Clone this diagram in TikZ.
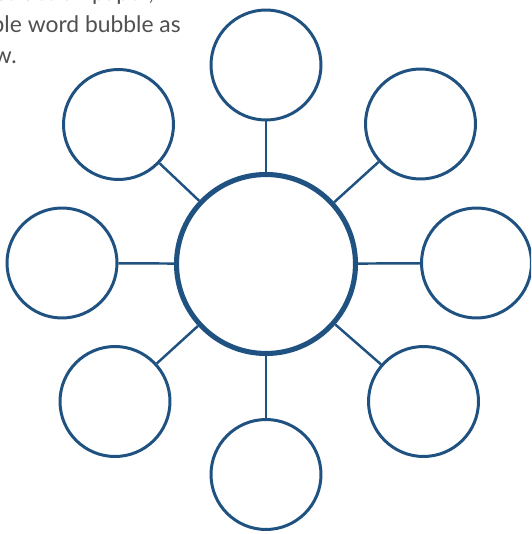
\documentclass[tikz,border=0pt]{standalone}
\usepackage{xcolor}
\usepackage{fontspec}
\setmainfont{Lato}
\usepackage{tikz}

\definecolor{bubbleblue}{RGB}{31,82,128}
\definecolor{notegray}{RGB}{80,80,80}

\begin{document}
\begin{tikzpicture}[x=0.02cm, y=-0.02cm]

\tikzstyle{bubble} = [circle, draw=bubbleblue, line width=1.7pt,
                      fill=white, minimum size=2.2cm, inner sep=0pt]
\tikzstyle{hub}    = [circle, draw=bubbleblue, line width=2.9pt,
                      fill=white, minimum size=3.58cm, inner sep=0pt]
\tikzstyle{spoke}  = [draw=bubbleblue, line width=1.4pt]
\tikzstyle{note}   = [anchor=base east, inner sep=0pt, text=notegray,
                      font=\fontsize{13}{16}\selectfont]

\useasboundingbox (0,0) rectangle (531,534);
\clip (0,0) rectangle (531,534);

% ── Clipped instruction text ──────────────────────────
\node[note] (lineA) at (154,1)  {nstruction paper,};
\node[note] (lineB) at (181,32) {ble word bubble as};
\node[note] (lineC) at (17,63)  {w.};

% ── Centre bubble ─────────────────────────────────────
\node[hub] (core) at (266,264) {};

% ── Outer bubbles ─────────────────────────────────────
\node[bubble] (top)    at (266,65)      {};
\node[bubble] (topR)   at (420.5,124)   {};
\node[bubble] (right)  at (476.5,263)   {};
\node[bubble] (botR)   at (423.5,401.5) {};
\node[bubble] (bot)    at (266,474.5)   {};
\node[bubble] (botL)   at (115,401.5)   {};
\node[bubble] (left)   at (62,263)      {};
\node[bubble] (topL)   at (118.5,124.5) {};

% ── Spokes ────────────────────────────────────────────
\foreach \b in {top,topR,right,botR,bot,botL,left,topL}
  \draw[spoke] (core) -- (\b);

\end{tikzpicture}
\end{document}
